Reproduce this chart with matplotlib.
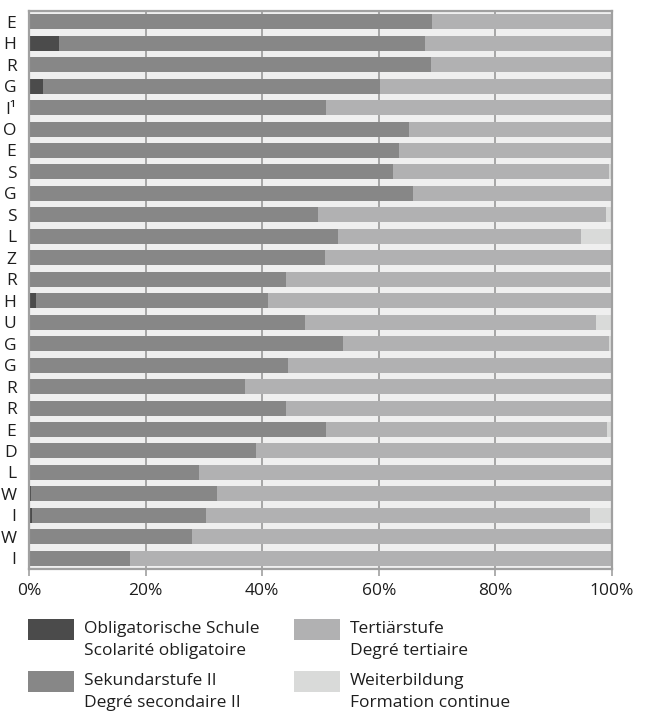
import matplotlib
matplotlib.use("Agg")
import matplotlib.pyplot as plt
from matplotlib.patches import Rectangle
import numpy as np

plt.rcParams['font.family'] = ['Open Sans', 'DejaVu Sans']

# Zeilenbeschriftungen (von oben nach unten)
row_labels = ["E", "H", "R", "G", "I¹", "O", "E", "S", "G", "S", "L", "Z", "R",
              "H", "U", "G", "G", "R", "R", "E", "D", "L", "W", "I", "W", "I"]

# Anteile in Prozent je Bildungsstufe
oblig = [0, 5.1, 0, 2.4, 0, 0, 0, 0, 0, 0, 0, 0, 0,
         1.2, 0, 0, 0, 0, 0, 0, 0, 0, 0.3, 0.5, 0, 0]
sek = [69.1, 62.9, 68.9, 57.8, 51.0, 65.1, 63.4, 62.4, 65.8, 49.5, 53.0, 50.7, 44.0,
       39.8, 47.3, 53.8, 44.4, 37.0, 44.0, 51.0, 39.0, 29.1, 31.9, 29.8, 27.9, 17.3]
weiter = [0, 0, 0, 0, 0, 0, 0, 0.6, 0, 1.0, 5.4, 0, 0.4,
          0, 2.8, 0.6, 0, 0, 0, 0.8, 0, 0, 0, 3.8, 0, 0]
tert = [round(100 - o - s - w, 1) for o, s, w in zip(oblig, sek, weiter)]

series_de = ["Obligatorische Schule", "Sekundarstufe II", "Tertiärstufe", "Weiterbildung"]
series_fr = ["Scolarité obligatoire", "Degré secondaire II", "Degré tertiaire", "Formation continue"]
colors = ["#4b4b4b", "#878787", "#b1b1b2", "#d9dad9"]

FS = 12.5
TXT = "#1e1e1e"

W, H = 653, 711
fig = plt.figure(figsize=(W / 100, H / 100), dpi=100)
ax = fig.add_axes([29 / W, 1 - 569 / H, (612 - 29) / W, (569 - 11) / H])
ax.set_facecolor("#efefef")

y = np.arange(len(row_labels))
left = np.zeros(len(row_labels))
for vals, col in zip([oblig, sek, tert, weiter], colors):
    vals = np.array(vals, dtype=float)
    ax.barh(y, vals, left=left, height=0.7, color=col, linewidth=0, zorder=2)
    left += vals

ax.set_xlim(0, 100)
ax.set_ylim(len(row_labels) - 0.5, -0.5)
ax.set_xticks([0, 20, 40, 60, 80, 100])
ax.set_xticklabels(["0%", "20%", "40%", "60%", "80%", "100%"])
ax.set_yticks(y)
ax.set_yticklabels(row_labels)

ax.xaxis.grid(True, color="#a0a0a0", linewidth=1.3, zorder=1)
ax.set_axisbelow(True)
for s in ax.spines.values():
    s.set_color("#a0a0a0")
    s.set_linewidth(1.6)

ax.tick_params(axis="x", length=5, width=1.2, color="#a0a0a0", labelsize=FS,
               pad=5, labelcolor=TXT)
ax.tick_params(axis="y", length=0, pad=9, labelsize=FS, labelcolor=TXT)

# Legende in zwei Spalten unter dem Diagramm
legend_pos = [(28, 619), (28, 671), (294, 619), (294, 671)]
for (px, py), col, de, fr in zip(legend_pos, colors, series_de, series_fr):
    fig.add_artist(Rectangle((px / W, 1 - (py + 21) / H), 46 / W, 21 / H,
                             transform=fig.transFigure, color=col, linewidth=0))
    fig.text((px + 56) / W, 1 - (py + 10) / H, de, fontsize=FS, va="center",
             ha="left", color=TXT)
    fig.text((px + 56) / W, 1 - (py + 32) / H, fr, fontsize=FS, va="center",
             ha="left", color=TXT)

fig.savefig("out.png", dpi=100)
